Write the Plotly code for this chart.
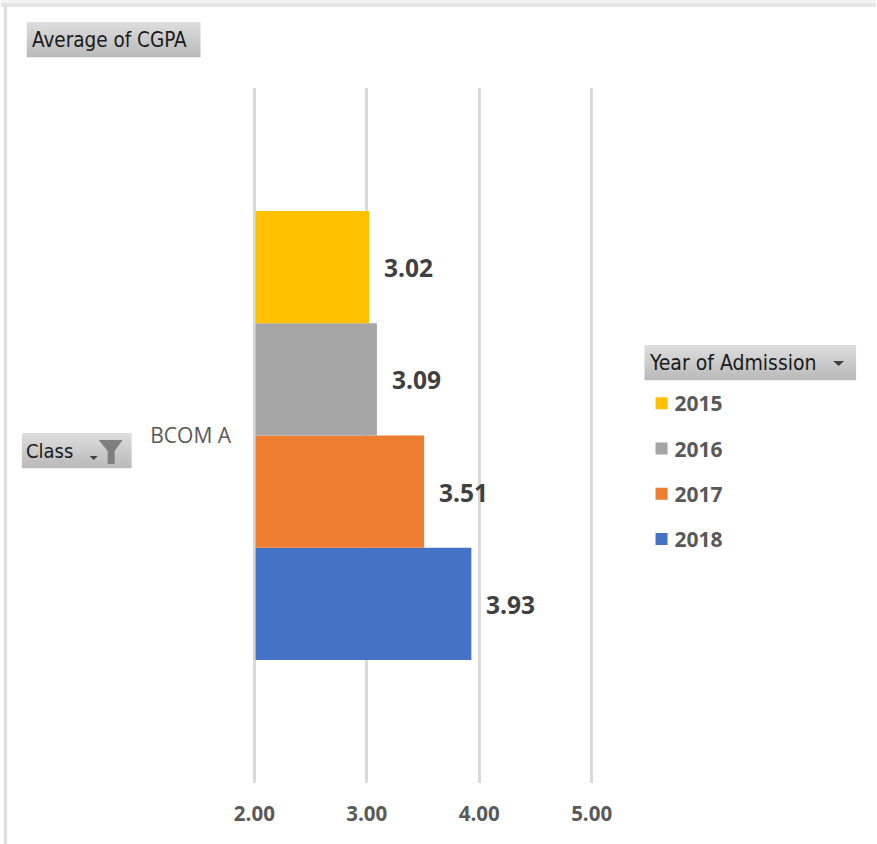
import plotly.graph_objects as go

category = ["BCOM A"]
years = ["2018", "2017", "2016", "2015"]
values = [3.93, 3.51, 3.09, 3.02]
colors = ["#4472C4", "#ED7D31", "#A5A5A5", "#FFC000"]
x_ticks = [2, 3, 4, 5]
x_tick_labels = ["2.00", "3.00", "4.00", "5.00"]

W, H = 877, 844
PAD = 0.012
SCALE = (592 - 254) / 3
L, R, T, B = 254 - PAD * SCALE, 592 + PAD * SCALE, 88, 783

def px(x):
    return (x - L) / (R - L)

def py(y):
    return (B - y) / (B - T)

shapes = []

def rect(x0, y0, x1, y1, color):
    shapes.append(dict(type="rect", xref="paper", yref="paper", x0=px(x0), x1=px(x1),
                       y0=py(y0), y1=py(y1), fillcolor=color, line_width=0, layer="below"))

def poly(points, color):
    path = "M" + " L".join(f"{px(a):.5f},{py(b):.5f}" for a, b in points) + " Z"
    shapes.append(dict(type="path", xref="paper", yref="paper", path=path,
                       fillcolor=color, line_width=0))

def header(x0, y0, x1, y1):
    steps = int(y1 - y0)
    for i in range(steps):
        t = i / max(steps - 1, 1)
        v = int(222 + (186 - 222) * t)
        rect(x0, y0 + i, x1, y0 + i + 1.2, f"rgb({v},{v},{v})")

# window frame
rect(0, 0, W, 3, "#f4f4f4")
rect(0, 3, W, 7, "#e6e6e6")
rect(3, 5, 6, H, "#dedede")

header(26, 22, 200, 57)
header(21, 433, 131, 468)
header(645, 345, 857, 380)

# drop-down arrows and filter icon
poly([(89, 456), (97, 456), (93, 460)], "#404040")
poly([(834, 361), (845, 361), (839.5, 366)], "#404040")
poly([(98, 440), (122, 440), (114, 451), (114, 464), (107, 464), (107, 451)], "#7f7f7f")

# axis baseline gridline stays visible on top of the bars
shapes.append(dict(type="line", xref="x", yref="paper", x0=x_ticks[0], x1=x_ticks[0], y0=0, y1=1,
                   line=dict(color="#d9d9d9", width=2.5)))

fig = go.Figure()
for rank, (year, value, color) in enumerate(zip(years, values, colors)):
    fig.add_trace(go.Bar(
        y=category, x=[value], name=year, orientation="h",
        marker=dict(color=color, line_width=0), legendgroup=year,
        legendrank=len(years) - rank,
    ))

annotations = []
n = len(years)
band = (660 - 211) / n
for i, value in enumerate(values):
    annotations.append(dict(
        x=value, y=category[0], xref="x", yref="y", text=f"{value:.2f}",
        showarrow=False, xanchor="left", xshift=13,
        yshift=(i - (n - 1) / 2) * band - 0.5,
        font=dict(family="Open Sans", size=24.5, color="#404040", weight="bold"),
    ))

def label(x, y, text, size):
    annotations.append(dict(
        x=px(x), y=py(y), xref="paper", yref="paper", text=text, showarrow=False,
        xanchor="left", yanchor="middle",
        font=dict(family="DejaVu Sans Condensed, DejaVu Sans", size=size, color="#1a1a1a"),
    ))

label(29, 40, "Average of CGPA", 20.5)
label(23, 451, "Class", 20)
label(647, 363, "Year of Admission", 21)

fig.update_layout(
    width=W, height=H,
    margin=dict(l=L, r=W - R, t=T, b=H - B, autoexpand=False),
    paper_bgcolor="white", plot_bgcolor="white",
    barmode="group", bargap=0.354, bargroupgap=0,
    shapes=shapes, annotations=annotations,
    legend=dict(
        x=px(642), y=py(383), xref="paper", yref="paper", xanchor="left", yanchor="top",
        traceorder="grouped", tracegroupgap=15, itemwidth=30, itemclick=False,
        font=dict(family="Open Sans", size=21, color="#595959", weight="bold"),
        bgcolor="rgba(0,0,0,0)",
    ),
    xaxis=dict(
        range=[2 - PAD, 5 + PAD], tickvals=x_ticks, ticktext=x_tick_labels, showgrid=True,
        gridcolor="#d9d9d9", gridwidth=2.5, zeroline=False, showline=False, ticks="",
        ticklabelstandoff=16,
        tickfont=dict(family="Open Sans", size=20.5, color="#595959", weight="bold"),
    ),
    yaxis=dict(
        type="category", showgrid=False, showline=False, ticks="", ticklabelstandoff=21,
        tickfont=dict(family="Open Sans", size=21, color="#595959"),
    ),
    font=dict(family="Open Sans"),
)

post = ("document.body.style.margin='0';document.body.style.overflow='hidden';"
        "document.querySelectorAll('.legendtext').forEach(function(t){t.setAttribute('x','33');});")
fig.write_html("out.html", config=dict(displayModeBar=False), post_script=post)
